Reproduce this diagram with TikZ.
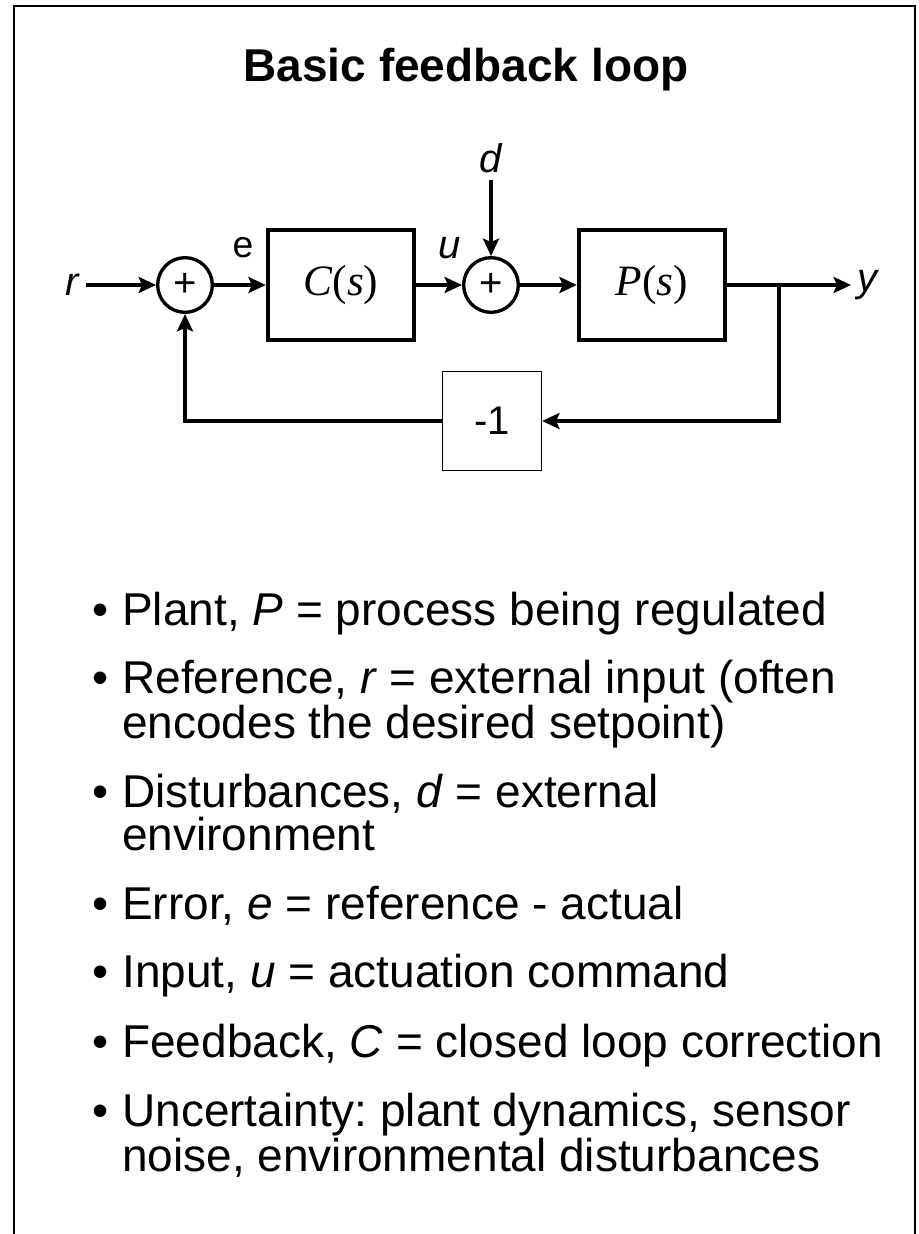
\documentclass[tikz,border=0pt]{standalone}
\usepackage{fontspec}
\setmainfont{Liberation Sans}
\newfontfamily\serifmath{Liberation Serif}
\usetikzlibrary{arrows.meta,positioning}
\frenchspacing

\newcommand{\listfont}{\fontsize{34.5pt}{31.9pt}\selectfont}
\newcommand{\tfn}[2]{{\serifmath\itshape #1}{\serifmath(}{\serifmath\itshape #2}{\serifmath)}}

\begin{document}
\begin{tikzpicture}[
    x=0.75pt, y=-0.75pt,
    block/.style={draw, line width=2.8pt, minimum width=110pt, minimum height=82pt, inner sep=0pt, font=\fontsize{32.5pt}{36pt}\selectfont},
    sumnode/.style={draw, circle, line width=2.5pt, minimum size=41pt, inner sep=0pt, font=\fontsize{30pt}{32pt}\selectfont},
    gain/.style={draw, line width=1.2pt, minimum size=74pt, inner sep=0pt, font=\fontsize{30pt}{32pt}\selectfont},
    sig/.style={inner sep=5pt, font=\fontsize{30pt}{32pt}\selectfont\itshape},
    arrow/.style={-{Stealth[length=13pt, width=12pt, inset=2.5pt]}, line width=2.8pt},
    item/.style={anchor=base west, align=left, inner sep=0pt, font=\listfont}
]
\useasboundingbox (0,0) rectangle (919,1234);
\draw[line width=1.4pt] (14,1240) -- (14,6) -- (915,6) -- (915,1240);

\node[font=\fontsize{34.5pt}{36pt}\selectfont\bfseries, anchor=base] (title) at (466,82) {Basic feedback loop};

% loop
\node[sumnode] (sum1) at (185,285) {+};
\node[block] (ctrl) at (341,285) {\tfn{C}{s}};
\node[sumnode] (sum2) at (491,285) {+};
\node[block] (plant) at (652,285) {\tfn{P}{s}};
\node[gain] (neg) at (492,421) {-1};

\node[sig, anchor=east] (r) at (86,285) {r};
\node[sig] (d) at (491,158) {d};
\node[sig, anchor=west] (y) at (851,285) {y};
\node[sig, font=\fontsize{28pt}{30pt}\selectfont] (e) at (243,248) {e};
\node[sig] (u) at (450,248) {u};
\coordinate (branch) at (779,285);

\draw[arrow] (r) -- (sum1);
\draw[arrow] (sum1) -- (ctrl);
\draw[arrow] (ctrl) -- (sum2);
\draw[arrow] (d) -- (sum2);
\draw[arrow] (sum2) -- (plant);
\draw[arrow] (plant) -- (y);
\draw[arrow] (branch) |- (neg);
\draw[arrow] (neg) -| (sum1);

% bullet list
\node[item] (itm1) at (122,625) {\llap{\textbullet\hspace{10pt}}Plant, \textit{P} = process being regulated};
\node[item] (itm2) at (122,738) {\llap{\textbullet\hspace{10pt}}Reference, \textit{r} = external input (often\\encodes the desired setpoint)};
\node[item] (itm3) at (122,850) {\llap{\textbullet\hspace{10pt}}Disturbances, \textit{d} = external\\environment};
\node[item] (itm4) at (122,919) {\llap{\textbullet\hspace{10pt}}Error, \textit{e} = reference - actual};
\node[item] (itm5) at (122,987) {\llap{\textbullet\hspace{10pt}}Input, \textit{u} = actuation command};
\node[item] (itm6) at (122,1057) {\llap{\textbullet\hspace{10pt}}Feedback, \textit{C} = closed loop correction};
\node[item] (itm7) at (122,1171) {\llap{\textbullet\hspace{10pt}}Uncertainty: plant dynamics, sensor\\noise, environmental disturbances};
\end{tikzpicture}
\end{document}
